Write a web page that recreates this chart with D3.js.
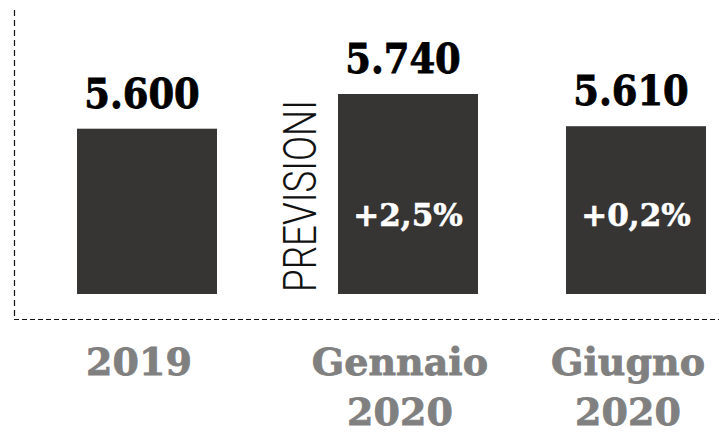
<!DOCTYPE html>
<html>
<head>
<meta charset="utf-8">
<script src="https://cdn.jsdelivr.net/npm/d3@7"></script>
<style>
  body { margin: 0; background: #fff; }
  svg { display: block; }
</style>
</head>
<body>
<svg id="chart" width="719" height="436"></svg>
<script>
const categories = ['2019', 'Gennaio 2020', 'Giugno 2020'];
const labelLines = [['2019'], ['Gennaio', '2020'], ['Giugno', '2020']];
const values = [5600, 5740, 5610];
const valueLabels = ['5.600', '5.740', '5.610'];
const changeLabels = ['', '+2,5%', '+0,2%'];
const sideLabel = 'PREVISIONI';

const W = 719, H = 436;
const base = 294;
const barW = 140;

const svg = d3.select('#chart');

// bars are not evenly spaced in the original (room for the PREVISIONI label)
const x = d3.scaleOrdinal().domain(categories).range([77, 338, 566]);
const y = d3.scaleLinear().domain([4933, 5740]).range([base, 94]);

// dashed frame
svg.append('line')
  .attr('x1', 14.5).attr('x2', 14.5).attr('y1', 10).attr('y2', 319)
  .attr('stroke', '#111').attr('stroke-width', 1.2).attr('stroke-dasharray', '6,4');
svg.append('line')
  .attr('x1', 14).attr('x2', W).attr('y1', 319.5).attr('y2', 319.5)
  .attr('stroke', '#111').attr('stroke-width', 1.2).attr('stroke-dasharray', '5,3');

const g = svg.selectAll('g.bar')
  .data(categories)
  .join('g')
  .attr('class', 'bar');

g.append('rect')
  .attr('x', (d) => x(d))
  .attr('y', (d, i) => y(values[i]))
  .attr('width', barW)
  .attr('height', (d, i) => base - y(values[i]))
  .attr('fill', '#363534');

g.append('text')
  .attr('x', (d) => x(d) + barW / 2 - 5)
  .attr('y', (d, i) => y(values[i]) - 21)
  .attr('text-anchor', 'middle')
  .style('font-family', 'DejaVu Serif')
  .style('font-stretch', 'condensed')
  .style('font-weight', 'bold')
  .style('font-size', '41px')
  .attr('fill', '#000')
  .attr('stroke', '#000')
  .attr('stroke-width', 0.8)
  .text((d, i) => valueLabels[i]);

g.append('text')
  .attr('x', (d) => x(d) + barW / 2)
  .attr('y', 226)
  .attr('text-anchor', 'middle')
  .style('font-family', 'DejaVu Serif')
  .style('font-weight', 'bold')
  .style('font-size', '31px')
  .attr('fill', '#fff')
  .attr('stroke', '#fff')
  .attr('stroke-width', 0.6)
  .text((d, i) => changeLabels[i]);

// category labels under the axis
g.append('text')
  .attr('text-anchor', 'middle')
  .style('font-family', 'DejaVu Serif')
  .style('font-weight', 'bold')
  .style('font-size', '38px')
  .attr('fill', '#808080')
  .attr('stroke', '#808080')
  .attr('stroke-width', 0.8)
  .selectAll('tspan')
  .data((d, i) => labelLines[i].map((t) => ({ t, cx: x(d) + barW / 2 - 8 })))
  .join('tspan')
  .attr('x', (d) => d.cx)
  .attr('y', (d, j) => 375 + j * 50)
  .text((d) => d.t);

svg.append('text')
  .attr('transform', `translate(316,${(100 + 292) / 2}) rotate(-90)`)
  .attr('text-anchor', 'middle')
  .attr('textLength', 192)
  .attr('lengthAdjust', 'spacingAndGlyphs')
  .style('font-family', 'Roboto')
  .style('font-weight', 300)
  .style('font-size', '46px')
  .attr('fill', '#111')
  .text(sideLabel);
</script>
</body>
</html>
